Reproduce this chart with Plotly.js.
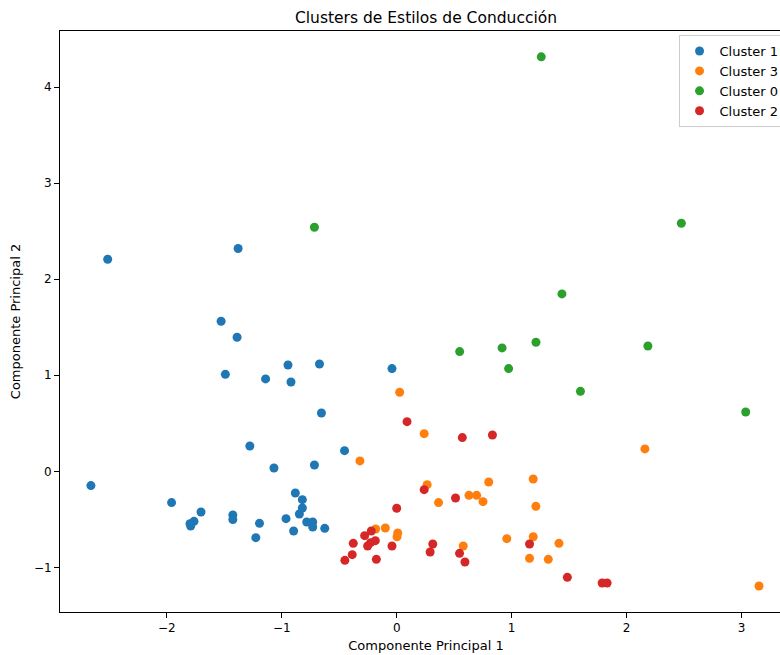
<!DOCTYPE html>
<html>
<head>
<meta charset="utf-8">
<script src="https://cdn.plot.ly/plotly-3.0.1.min.js"></script>
<style>html,body{margin:0;padding:0;overflow:hidden;background:#fff;}</style>
</head>
<body>
<div id="chart"></div>
<script>
const clusterNames = ["Cluster 1", "Cluster 3", "Cluster 0", "Cluster 2"];
const clusterColors = ["#1f77b4", "#ff7f0e", "#2ca02c", "#d62728"];

const c1x = [-2.515, -1.38, -1.528, -1.389, -0.946, -0.672, -0.041, -1.491, -1.141, -0.920, -0.655, -1.278, -0.454, -1.068, -0.716, -2.661, -1.959, -1.703, -1.764, -1.793, -1.799, -1.426, -1.426, -1.194, -1.226, -0.882, -0.821, -0.821, -0.847, -0.963, -0.783, -0.731, -0.731, -0.897, -0.626];
const c1y = [2.208, 2.32, 1.5625, 1.396, 1.107, 1.118, 1.07, 1.01, 0.962, 0.930, 0.607, 0.264, 0.215, 0.035, 0.066, -0.149, -0.326, -0.424, -0.521, -0.570, -0.545, -0.455, -0.503, -0.542, -0.691, -0.226, -0.295, -0.382, -0.444, -0.493, -0.528, -0.528, -0.580, -0.622, -0.594];

const c3x = [0.026, 0.239, -0.320, 2.160, 0.265, 0.801, 1.188, 0.364, 0.629, 0.696, 0.751, 1.211, -0.183, -0.099, 0.009, 0.003, 0.958, 1.188, 1.412, 0.579, 1.156, 1.319, 3.153];
const c3y = [0.823, 0.392, 0.108, 0.233, -0.139, -0.111, -0.080, -0.326, -0.25, -0.25, -0.316, -0.365, -0.601, -0.590, -0.642, -0.681, -0.701, -0.681, -0.75, -0.778, -0.906, -0.917, -1.194];

const c0x = [1.258, -0.716, 2.477, 1.438, 0.548, 0.917, 1.212, 2.186, 0.974, 1.599, 3.037];
const c0y = [4.316, 2.542, 2.583, 1.847, 1.247, 1.285, 1.344, 1.305, 1.07, 0.833, 0.618];

const c2x = [0.090, 0.571, 0.833, 0.239, 0.512, 0.0, -0.221, -0.279, -0.186, -0.227, -0.253, -0.378, -0.041, -0.387, -0.451, -0.177, 0.314, 0.291, 0.547, 0.594, 1.156, 1.485, 1.788, 1.831];
const c2y = [0.517, 0.351, 0.378, -0.191, -0.278, -0.385, -0.622, -0.670, -0.722, -0.743, -0.778, -0.75, -0.778, -0.868, -0.927, -0.917, -0.757, -0.840, -0.854, -0.944, -0.757, -1.104, -1.163, -1.163];

const xs = [c1x, c3x, c0x, c2x];
const ys = [c1y, c3y, c0y, c2y];

const traces = clusterNames.map((name, i) => ({
  type: "scatter",
  mode: "markers",
  name: name,
  x: xs[i],
  y: ys[i],
  marker: {color: clusterColors[i], size: 9, line: {width: 0}}
}));

const font = "DejaVu Sans, sans-serif";
const axisCommon = {
  showline: true, mirror: true, linecolor: "#000", linewidth: 1,
  showgrid: false, zeroline: false,
  ticks: "outside", ticklen: 5, tickwidth: 1, tickcolor: "#000",
  tickfont: {family: font, size: 12, color: "#000"}
};

const layout = {
  width: 801, height: 655,
  margin: {l: 60, r: 9, t: 31, b: 43},
  paper_bgcolor: "#fff", plot_bgcolor: "#fff",
  showlegend: true,
  title: {text: "Clusters de Estilos de Conducción", font: {family: font, size: 15.5, color: "#000"},
          x: 0.5, xref: "paper", y: 0.973, yref: "container", yanchor: "middle"},
  xaxis: Object.assign({}, axisCommon, {
    range: [-2.93, 3.44], tickvals: [-2, -1, 0, 1, 2, 3],
    title: {text: "Componente Principal 1", font: {family: font, size: 13, color: "#000"}, standoff: 6}
  }),
  yaxis: Object.assign({}, axisCommon, {
    range: [-1.465, 4.585], tickvals: [-1, 0, 1, 2, 3, 4],
    title: {text: "Componente Principal 2", font: {family: font, size: 13, color: "#000"}, standoff: 10}
  }),
  legend: {
    x: 0.845, y: 0.993, xanchor: "left", yanchor: "top",
    bgcolor: "rgba(255,255,255,0.8)", bordercolor: "#cccccc", borderwidth: 1,
    font: {family: font, size: 13, color: "#000"},
    itemsizing: "trace", tracegroupgap: 0
  }
};

Plotly.newPlot("chart", traces, layout, {displayModeBar: false, staticPlot: true});
</script>
</body>
</html>
